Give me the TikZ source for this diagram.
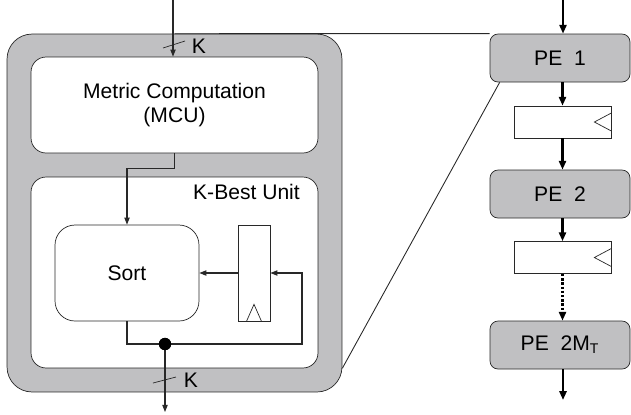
\documentclass[tikz,border=0pt]{standalone}
\usepackage{fontspec}
\setmainfont{Liberation Sans}
\usepackage{tikz}
\usetikzlibrary{arrows.meta, positioning, calc}
\definecolor{boxgray}{RGB}{192, 192, 194}
\definecolor{linegray}{RGB}{40, 40, 40}

\begin{document}
\begin{tikzpicture}[x=0.02cm, y=-0.02cm,
    font=\fontsize{12}{14}\selectfont,
    outerbox/.style={draw=linegray, fill=boxgray, rounded corners=0.5cm, minimum width=6.7cm, minimum height=7.16cm},
    unit/.style={draw=linegray, fill=white, rounded corners=0.3cm, minimum width=5.74cm, align=center},
    sortbox/.style={draw=linegray, fill=white, rounded corners=0.4cm, minimum width=2.88cm, minimum height=1.92cm},
    regbox/.style={draw=linegray, fill=white, minimum width=0.64cm, minimum height=1.92cm},
    pebox/.style={draw=linegray, fill=boxgray, rounded corners=0.16cm, minimum width=2.8cm, minimum height=0.96cm},
    pereg/.style={draw=linegray, fill=white, minimum width=1.94cm, minimum height=0.64cm},
    flow/.style={-{Triangle[length=4pt, width=3pt]}, linegray, line width=0.6pt},
    peflow/.style={-{Triangle[length=5pt, width=4pt]}, black, line width=1.4pt},
    dot/.style={circle, fill=black, inner sep=0pt, minimum size=7pt}
]
    \useasboundingbox (0,0) rectangle (631,414);

    % K-best detector
    \node[outerbox] (outer) at (174.5,213) {};
    \node[unit, minimum height=1.92cm] (mcu) at (174.5,105) {Metric Computation\\(MCU)};
    \node[unit, minimum height=3.82cm] (kbest) at (174.5,272.5) {};
    \node[anchor=east] (kbl) at (306,192) {K-Best Unit};
    \node[sortbox] (sort) at (127,273) {Sort};
    \node[regbox] (reg) at (254,273) {};
    \draw[linegray] ($(reg.south)+(-7.5,0)$) -- ++(7.5,-17) -- ++(7.5,17);

    % Inputs and outputs
    \coordinate (kin) at (173,0);
    \coordinate (fb) at (302,344);
    \node[dot] (tap) at (165,344) {};
    \coordinate (kout) at (165,412);
    \draw[flow] (kin) -- (kin |- mcu.north);
    \draw[flow] (mcu.south) -- ++(0,15) -| (sort.north);
    \draw[flow] (reg.west) -- (sort.east);
    \draw[flow] (sort.south) |- (fb) |- (reg.east);
    \draw[flow] (tap.center) -- (kout);
    \node[dot] at (tap) {};

    % Bus width marks
    \draw[linegray] (163,48) -- (185,41);
    \node (kt) at (199,46) {K};
    \draw[linegray] (153,383) -- (176,377);
    \node (kb) at (191,380) {K};

    % Pipeline of PEs
    \node[pebox] (pe1) at (560,58) {PE\ \ 1};
    \node[pereg] (r1) at (562.5,122) {};
    \node[pebox] (pe2) at (560,194) {PE\ \ 2};
    \node[pereg] (r2) at (562.5,257.5) {};
    \node[pebox] (pe3) at (560,345) {PE\ \ 2M$_\mathrm{T}$};
    \draw[linegray] ($(r1.east)+(0,-9)$) -- ++(-17,9) -- ++(17,9);
    \draw[linegray] ($(r2.east)+(0,-9)$) -- ++(-17,9) -- ++(17,9);

    \coordinate (pin) at (563,0);
    \coordinate (pout) at (563,400);
    \draw[peflow] (pin) -- (pin |- pe1.north);
    \draw[peflow] (r1.north |- pe1.south) -- (r1.north);
    \draw[peflow] (r1.south) -- (r1.south |- pe2.north);
    \draw[peflow] (r2.north |- pe2.south) -- (r2.north);
    \draw[peflow, densely dotted] (r2.south) -- (r2.south |- pe3.north);
    \draw[peflow] (pout |- pe3.south) -- (pout);

    % Zoom lines
    \draw[linegray, line width=0.5pt] (outer.north) -- (pe1.north west);
    \draw[linegray, line width=0.5pt] ($(pe1.south west)+(10,0)$) -- ($(outer.south east)+(0,-24)$);

\end{tikzpicture}
\end{document}
